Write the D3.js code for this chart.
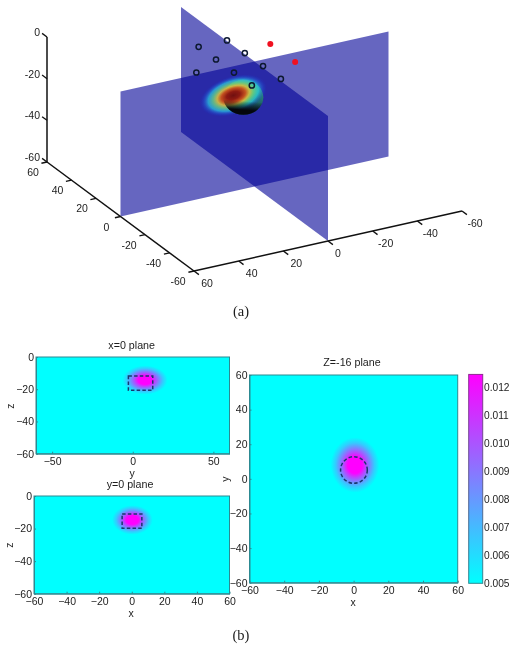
<!DOCTYPE html>
<html><head><meta charset="utf-8">
<script src="https://cdn.jsdelivr.net/npm/d3@7"></script>
<style>html,body{margin:0;background:#fff}svg{display:block;filter:blur(.35px)}text{font-family:"Liberation Sans",Arial,sans-serif;fill:#1c1c1c}</style>
</head><body><svg id="c" width="514" height="648"></svg>
<script>
// --- data ---
const ticks3d = [60,40,20,0,-20,-40,-60];
const zTicks3d = [0,-20,-40,-60];
const sensorU = [23,23,9,9,-5.5,-5.5,1.7,-19.7,-19.7];
const sensorV = [12.4,-0.3,-0.6,12.3,-0.8,12.2,25.1,-1,12];
const sourceU = [11.7,-8.2];
const sourceV = [-13.5,-13.7];
const planeUCorners = [[0,60,0],[0,-60,0],[0,-60,-60],[0,60,-60]];
const planeVCorners = [[60,0,0],[-60,0,0],[-60,0,-60],[60,0,-60]];
const sphereCentre = [0,5,-16];
const coolStops = [[0,0.0125],[0.3,0.0125],[0.45,0.0105],[0.62,0.0085],[0.8,0.0065],[1,0.005]];
const jetStops = [[0,"#701010",1],[0.2,"#8e1a12",1],[0.36,"#c8501c",.97],[0.48,"#d8c040",.9],[0.6,"#70d880",.8],[0.75,"#28d8e8",.65],[0.88,"#2070e8",.32],[1,"#1030d0",0]];
const sphereStops = [[0,"#2f7f96"],[.3,"#2c8f80"],[.6,"#1f6a6c"],[1,"#123a58"]];
const shadeStops = [[0,0],[.6,0],[.76,.6],[.86,1],[1,1]];
const cbTicks = [0.012,0.011,0.010,0.009,0.008,0.007,0.006,0.005];
const xTicksWide = [-50,0,50];
const xTicks60 = [-60,-40,-20,0,20,40,60];
const zTicks = [0,-20,-40,-60];
const colourRange = ["#00ffff","#ff00ff"];

const svg = d3.select("#c"), defs = svg.append("defs");
const cool = d3.scaleLinear().domain([0.005,0.0125]).range(colourRange);

// --- oblique projection of the 3D box ---
const ux = d3.scaleLinear([60,-60],[0,147]), uy = d3.scaleLinear([60,-60],[0,109]);
const vx = d3.scaleLinear([60,-60],[0,268]), vy = d3.scaleLinear([60,-60],[0,-60]);
const zy = d3.scaleLinear([-60,0],[162,37]);
const P = (u,v,z) => [47+ux(u)+vx(v), zy(z)+uy(u)+vy(v)];
const line = d3.line();

const g3 = svg.append("g");
[planeVCorners,planeUCorners].forEach(c=>{
  g3.append("path").attr("d",line(c.map(d=>P(...d)))+"Z")
    .attr("fill","rgb(0,0,150)").attr("fill-opacity",.6);
});

// sphere body
const sc = P(...sphereCentre);
const sg = defs.append("linearGradient").attr("id","sph").attr("x1",.55).attr("y1",0).attr("x2",.45).attr("y2",1);
sphereStops.forEach(s=>sg.append("stop").attr("offset",s[0]).attr("stop-color",s[1]));
const sphere = () => g3.append("ellipse").attr("cx",sc[0]).attr("cy",sc[1]).attr("rx",20).attr("ry",17.5);
sphere().attr("fill","url(#sph)");

// activity slice on the u=0 plane
const jg = defs.append("radialGradient").attr("id","jet");
jetStops.forEach(s=>jg.append("stop").attr("offset",s[0]).attr("stop-color",s[1]).attr("stop-opacity",s[2]));
const onPlane = (v0,z0,rv,rz) => {
  const o=P(0,v0,z0), a=P(0,v0+rv,z0), b=P(0,v0,z0+rz);
  return `matrix(${a[0]-o[0]},${a[1]-o[1]},${b[0]-o[0]},${b[1]-o[1]},${o[0]},${o[1]})`;
};
g3.append("ellipse").attr("rx",1).attr("ry",1).attr("fill","url(#jet)")
  .attr("transform",onPlane(9.5,-14,15,9.5));

// dark underside of the sphere, in front of the slice
const sh = defs.append("linearGradient").attr("id","shade").attr("x1",.55).attr("y1",0).attr("x2",.45).attr("y2",1);
shadeStops.forEach(s=>sh.append("stop").attr("offset",s[0]).attr("stop-color","#04060c").attr("stop-opacity",s[1]));
sphere().attr("fill","url(#shade)");

// 3D axes
const axis3 = svg.append("g").attr("stroke","#111").attr("fill","none");
const seg = (a,b,w)=>axis3.append("path").attr("d",line([P(...a),P(...b)])).attr("stroke-width",w);
seg([60,60,0],[60,60,-60],1.5); seg([60,60,-60],[-60,60,-60],1.5); seg([-60,60,-60],[-60,-60,-60],1.5);
zTicks3d.forEach(z=>seg([60,60,z],[64,60,z],1.3));
ticks3d.forEach(t=>{ seg([t,60,-60],[t,62.5,-60],1.3); seg([-60,t,-60],[-64,t,-60],1.3); });
const lab3 = svg.append("g").attr("font-size",10.5);
zTicks3d.forEach(z=>{const p=P(60,60,z); lab3.append("text").attr("x",p[0]-7).attr("y",p[1]-1).attr("text-anchor","end").text(z);});
ticks3d.forEach(t=>{
  let p=P(t,60,-60); lab3.append("text").attr("x",p[0]-(t<0?16:14)).attr("y",p[1]+14).attr("text-anchor","middle").text(t);
  p=P(-60,t,-60); lab3.append("text").attr("x",p[0]+(t===0?10:13)).attr("y",p[1]+16).attr("text-anchor","middle").text(t);
});

// sensors and sources
svg.append("g").selectAll("circle").data(sensorU).join("circle")
  .attr("cx",(d,i)=>P(d,sensorV[i],0)[0]).attr("cy",(d,i)=>P(d,sensorV[i],0)[1])
  .attr("r",2.6).attr("fill","none").attr("stroke","#0c1830").attr("stroke-width",1.5);
svg.append("g").selectAll("circle").data(sourceU).join("circle")
  .attr("cx",(d,i)=>P(d,sourceV[i],0)[0]).attr("cy",(d,i)=>P(d,sourceV[i],0)[1])
  .attr("r",3).attr("fill","#f01020");

const serif = t=>t.style("font-family","'Liberation Serif',serif").style("font-size","14.5px").attr("text-anchor","middle");
serif(svg.append("text").attr("x",241).attr("y",316).text("(a)"));
serif(svg.append("text").attr("x",241).attr("y",640).text("(b)"));

// --- heat panels ---
const cg = defs.append("radialGradient").attr("id","cool");
coolStops.forEach(s=>cg.append("stop").attr("offset",s[0]).attr("stop-color",cool(s[1])));
const frame = "#2c8a92";
let clipId=0;
function panel(o){
  const g = svg.append("g");
  const x = d3.scaleLinear(o.xd,[o.l,o.r]), y = d3.scaleLinear(o.yd,[o.b,o.t]);
  const id="clip"+(++clipId);
  defs.append("clipPath").attr("id",id).append("rect").attr("x",o.l).attr("y",o.t).attr("width",o.r-o.l).attr("height",o.b-o.t);
  g.append("rect").attr("x",o.l).attr("y",o.t).attr("width",o.r-o.l).attr("height",o.b-o.t).attr("fill",cool(0.005));
  g.append("ellipse").attr("clip-path",`url(#${id})`)
    .attr("cx",x(o.c[0])).attr("cy",y(o.c[1]))
    .attr("rx",Math.abs(x(o.c[0]+o.rad[0])-x(o.c[0]))).attr("ry",Math.abs(y(o.c[1]+o.rad[1])-y(o.c[1])))
    .attr("fill","url(#cool)");
  const dash={fill:"none",stroke:"#17376e","stroke-width":1.5,"stroke-dasharray":"3.5,2.2"};
  const shape = o.box
    ? g.append("rect").attr("x",x(o.box[0])).attr("y",y(o.box[3])).attr("width",x(o.box[1])-x(o.box[0])).attr("height",y(o.box[2])-y(o.box[3]))
    : g.append("ellipse").attr("cx",x(o.ring[0])).attr("cy",y(o.ring[1])).attr("rx",x(o.ring[0]+o.ring[2])-x(o.ring[0])).attr("ry",y(o.ring[1])-y(o.ring[1]+o.ring[2]));
  Object.entries(dash).forEach(([k,v])=>shape.attr(k,v));
  const ax = d3.axisBottom(x).tickValues(o.xt).tickSize(-2).tickPadding(4).tickSizeOuter(0);
  const ay = d3.axisLeft(y).tickValues(o.yt).tickSize(-2).tickPadding(2).tickSizeOuter(0);
  const gx = g.append("g").attr("transform",`translate(0,${o.b})`).call(ax);
  const gy = g.append("g").attr("transform",`translate(${o.l},0)`).call(ay);
  [gx,gy].forEach(a=>{a.attr("font-size",10.5).attr("font-family",null);a.selectAll("line,path").attr("stroke",frame);a.selectAll("text").attr("fill","#1c1c1c");});
  g.append("rect").attr("x",o.l).attr("y",o.t).attr("width",o.r-o.l).attr("height",o.b-o.t).attr("fill","none").attr("stroke",frame);
  g.append("text").attr("x",o.title[1]).attr("y",o.title[2]).attr("text-anchor","middle").attr("font-size",10.7).text(o.title[0]);
  g.append("text").attr("x",o.xl[1]).attr("y",o.xl[2]).attr("text-anchor","middle").attr("font-size",10.5).text(o.xl[0]);
  g.append("text").attr("transform",`translate(${o.yl[1]},${o.yl[2]}) rotate(-90)`).attr("text-anchor","middle").attr("font-size",10.5).text(o.yl[0]);
}
panel({l:36,r:229.5,t:357,b:453.7,xd:[-60,60],yd:[-60,0],xt:xTicksWide,yt:zTicks,c:[7.6,-14.3],rad:[14,9],box:[-2.7,12.4,-20.7,-11.8],
  title:["x=0 plane",131.7,349],xl:["y",132,477],yl:["z",14,406]});
panel({l:34,r:229.5,t:496,b:593.7,xd:[-60,60],yd:[-60,0],xt:xTicks60,yt:zTicks,c:[0.4,-14.7],rad:[12.5,9],box:[-5.9,6.2,-19.8,-11],
  title:["y=0 plane",130,488],xl:["x",131,617],yl:["z",12.5,545]});
panel({l:249.5,r:457.7,t:375,b:582.7,xd:[-60,60],yd:[-60,60],xt:xTicks60,yt:xTicks60,c:[0.8,8],rad:[14,16],ring:[0.2,5.1,7.7],
  title:["Z=-16 plane",352,366],xl:["x",353,606],yl:["y",228.5,479]});

// --- colour bar ---
const cb = d3.scaleLinear([0.005,0.012],[583.3,387.3]);
const barTop = cb(0.01246), barBot = cb(0.005);
const lg = defs.append("linearGradient").attr("id","cb").attr("x1",0).attr("y1",1).attr("x2",0).attr("y2",0);
colourRange.forEach((c,i)=>lg.append("stop").attr("offset",i).attr("stop-color",c));
const lf = defs.append("linearGradient").attr("id","cbf").attr("x1",0).attr("y1",1).attr("x2",0).attr("y2",0);
["#2c8a92","#8f2a92"].forEach((c,i)=>lf.append("stop").attr("offset",i).attr("stop-color",c));
svg.append("rect").attr("x",468.7).attr("y",barTop).attr("width",14).attr("height",barBot-barTop)
  .attr("fill","url(#cb)").attr("stroke","url(#cbf)");
svg.append("g").selectAll("text").data(cbTicks).join("text")
  .attr("x",484).attr("y",d=>cb(d)+3.5).attr("font-size",10.2).text(d=>d3.format(".3f")(d));
</script></body></html>
